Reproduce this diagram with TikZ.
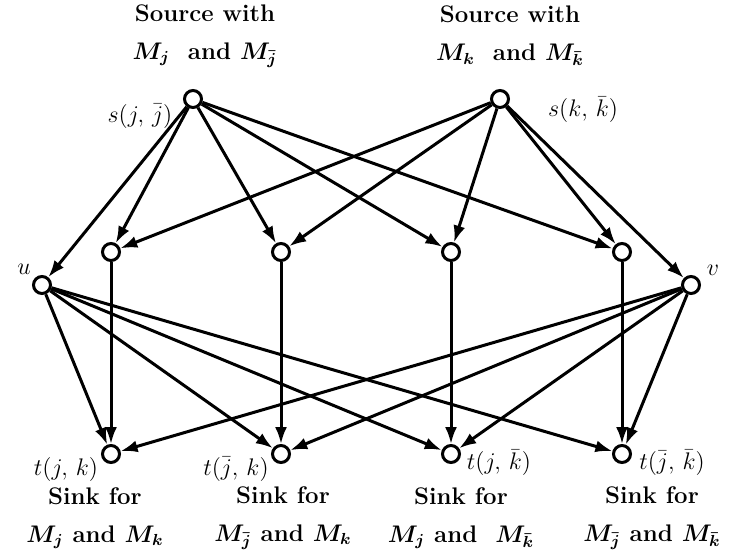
\documentclass[tikz,border=0pt]{standalone}
\usetikzlibrary{arrows.meta}
\begin{document}
\begin{tikzpicture}[x=0.5pt,y=-0.5pt,>={Latex[length=8.5pt,width=6pt]},
  vtx/.style={circle,draw,line width=1.5pt,fill=white,minimum size=8.5pt,inner sep=0pt},
  edge/.style={->,line width=1.5pt},
  lbl/.style={font=\fontsize{12.5}{14}\selectfont,inner sep=0pt},
  boldcap/.style={align=center,inner sep=0pt,font=\fontsize{12}{19}\selectfont\bfseries\boldmath}]
\useasboundingbox (0,0) rectangle (733,556);
% vertices
\node[vtx] (s1) at (193,99){};\node[vtx] (s2) at (500,99){};
\node[vtx] (u) at (42,285){};\node[vtx] (v) at (691,285){};
\node[vtx] (m1) at (111,252){};\node[vtx] (m2) at (281,252){};\node[vtx] (m3) at (451,252){};\node[vtx] (m4) at (622,252){};
\node[vtx] (t1) at (111,454){};\node[vtx] (t2) at (281,454){};\node[vtx] (t3) at (451,454){};\node[vtx] (t4) at (622,454){};
% labels
\node[lbl] (ls1) at (140,116){$s(j,\,\bar{j})$};\node[lbl] (ls2) at (583,110){$s(k,\,\bar{k})$};
\node[lbl] (lu) at (24,269){$u$};\node[lbl] (lv) at (713,270){$v$};
\node[lbl] (lt1) at (66,469){$t(j,\,k)$};\node[lbl] (lt2) at (236,469){$t(\bar{j},\,k)$};
\node[lbl] (lt3) at (499,463){$t(j,\,\bar{k})$};\node[lbl] (lt4) at (672,463){$t(\bar{j},\,\bar{k})$};
\node[boldcap] (src1) at (205,36){Source with\\$M_j$ \ and $M_{\bar{j}}$};
\node[boldcap] (src2) at (510,36){Source with\\$M_k$ \ and $M_{\bar{k}}$};
\node[boldcap] (snk1) at (95,518){Sink for\\$M_j$ and $M_k$};
\node[boldcap] (snk2) at (283,518){Sink for\\$M_{\bar{j}}$ and $M_k$};
\node[boldcap] (snk3) at (461,518){Sink for\\$M_j$ and \ $M_{\bar{k}}$};
\node[boldcap] (snk4) at (652,518){Sink for\\$M_{\bar{j}}$ and $M_{\bar{k}}$};
% sources
\draw[edge] (s1)--(u);\draw[edge] (s1)--(m1);\draw[edge] (s1)--(m2);\draw[edge] (s1)--(m3);\draw[edge] (s1)--(m4);
\draw[edge] (s2)--(m1);\draw[edge] (s2)--(m2);\draw[edge] (s2)--(m3);\draw[edge] (s2)--(m4);\draw[edge] (s2)--(v);
% middle row
\draw[edge] (m1)--(t1);\draw[edge] (m2)--(t2);\draw[edge] (m3)--(t3);\draw[edge] (m4)--(t4);
% u and v
\draw[edge] (u)--(t1);\draw[edge] (u)--(t2);\draw[edge] (u)--(t3);\draw[edge] (u)--(t4);
\draw[edge] (v)--(t1);\draw[edge] (v)--(t2);\draw[edge] (v)--(t3);\draw[edge] (v)--(t4);
\end{tikzpicture}
\end{document}
